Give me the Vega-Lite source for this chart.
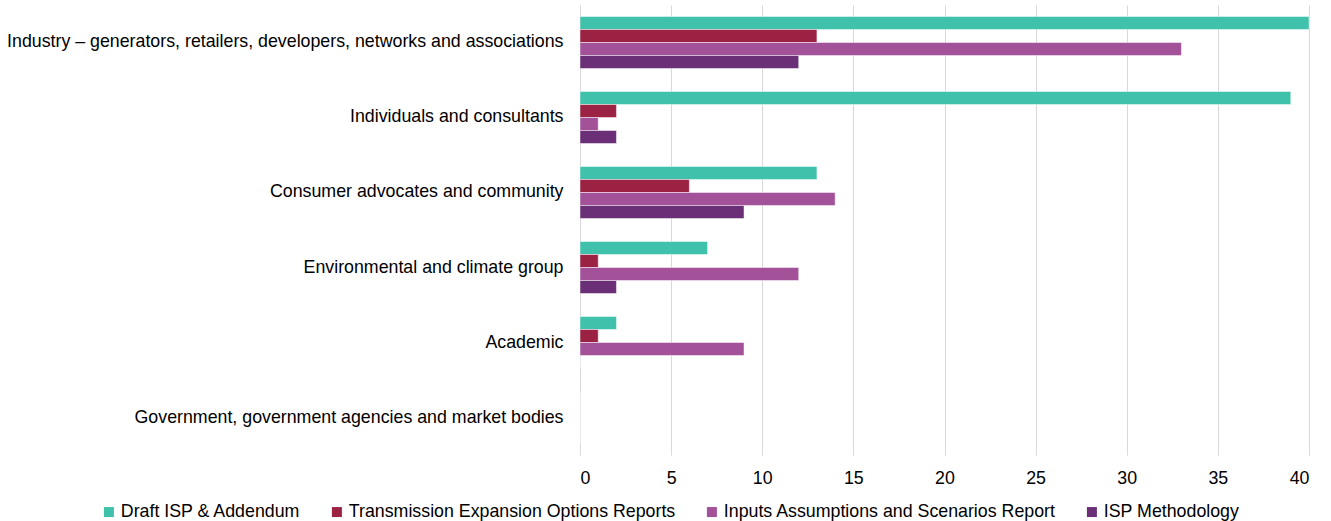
{
  "$schema": "https://vega.github.io/schema/vega-lite/v6.json",
  "autosize": "none",
  "width": 729,
  "height": 450,
  "padding": {"left": 580, "top": 5, "right": 22, "bottom": 66},
  "background": "white",
  "config": {
    "font": "Liberation Sans",
    "view": {"stroke": null},
    "axis": {"labelFont": "Liberation Sans", "labelFontSize": 17.8, "labelColor": "#000000"}
  },
  "data": {
    "values": [
      {"cat": "Industry – generators, retailers, developers, networks and associations", "series": "Draft ISP & Addendum", "v": 40},
      {"cat": "Industry – generators, retailers, developers, networks and associations", "series": "Transmission Expansion Options Reports", "v": 13},
      {"cat": "Industry – generators, retailers, developers, networks and associations", "series": "Inputs Assumptions and Scenarios Report", "v": 33},
      {"cat": "Industry – generators, retailers, developers, networks and associations", "series": "ISP Methodology", "v": 12},
      {"cat": "Individuals and consultants", "series": "Draft ISP & Addendum", "v": 39},
      {"cat": "Individuals and consultants", "series": "Transmission Expansion Options Reports", "v": 2},
      {"cat": "Individuals and consultants", "series": "Inputs Assumptions and Scenarios Report", "v": 1},
      {"cat": "Individuals and consultants", "series": "ISP Methodology", "v": 2},
      {"cat": "Consumer advocates and community", "series": "Draft ISP & Addendum", "v": 13},
      {"cat": "Consumer advocates and community", "series": "Transmission Expansion Options Reports", "v": 6},
      {"cat": "Consumer advocates and community", "series": "Inputs Assumptions and Scenarios Report", "v": 14},
      {"cat": "Consumer advocates and community", "series": "ISP Methodology", "v": 9},
      {"cat": "Environmental and climate group", "series": "Draft ISP & Addendum", "v": 7},
      {"cat": "Environmental and climate group", "series": "Transmission Expansion Options Reports", "v": 1},
      {"cat": "Environmental and climate group", "series": "Inputs Assumptions and Scenarios Report", "v": 12},
      {"cat": "Environmental and climate group", "series": "ISP Methodology", "v": 2},
      {"cat": "Academic", "series": "Draft ISP & Addendum", "v": 2},
      {"cat": "Academic", "series": "Transmission Expansion Options Reports", "v": 1},
      {"cat": "Academic", "series": "Inputs Assumptions and Scenarios Report", "v": 9},
      {"cat": "Academic", "series": "ISP Methodology", "v": 0},
      {"cat": "Government, government agencies and market bodies", "series": "Draft ISP & Addendum", "v": 0},
      {"cat": "Government, government agencies and market bodies", "series": "Transmission Expansion Options Reports", "v": 0},
      {"cat": "Government, government agencies and market bodies", "series": "Inputs Assumptions and Scenarios Report", "v": 0},
      {"cat": "Government, government agencies and market bodies", "series": "ISP Methodology", "v": 0}
    ]
  },
  "mark": {"type": "bar", "stroke": "white", "strokeWidth": 0.8, "strokeOpacity": 0.6},
  "encoding": {
    "y": {
      "field": "cat", "type": "nominal", "sort": null, "title": null,
      "scale": {"paddingInner": 0.3067, "paddingOuter": 0.1533},
      "axis": {"ticks": false, "domain": false, "labelPadding": 17, "labelLimit": 700}
    },
    "yOffset": {
      "field": "series", "type": "nominal",
      "sort": ["Draft ISP & Addendum", "Transmission Expansion Options Reports", "Inputs Assumptions and Scenarios Report", "ISP Methodology"],
      "scale": {"paddingInner": 0, "paddingOuter": 0}
    },
    "x": {
      "field": "v", "type": "quantitative", "title": null,
      "scale": {"domain": [0, 40], "nice": false},
      "axis": {"values": [0, 5, 10, 15, 20, 25, 30, 35, 40], "ticks": false, "domain": false, "labelPadding": 14, "gridColor": "#D9D9D9", "gridWidth": 1}
    },
    "color": {
      "field": "series", "type": "nominal", "title": null,
      "sort": ["Draft ISP & Addendum", "Transmission Expansion Options Reports", "Inputs Assumptions and Scenarios Report", "ISP Methodology"],
      "scale": {
        "domain": ["Draft ISP & Addendum", "Transmission Expansion Options Reports", "Inputs Assumptions and Scenarios Report", "ISP Methodology"],
        "range": ["#40C1AC", "#9B2242", "#A35199", "#6A2F77"]
      },
      "legend": {
        "orient": "none", "legendX": -480, "legendY": 498, "direction": "horizontal",
        "columns": 4, "columnPadding": 27, "symbolType": "square", "symbolSize": 100,
        "symbolStrokeWidth": 0, "labelFontSize": 17.8, "labelFont": "Liberation Sans",
        "labelColor": "#000000", "labelOffset": 3, "labelLimit": 500
      }
    }
  }
}
